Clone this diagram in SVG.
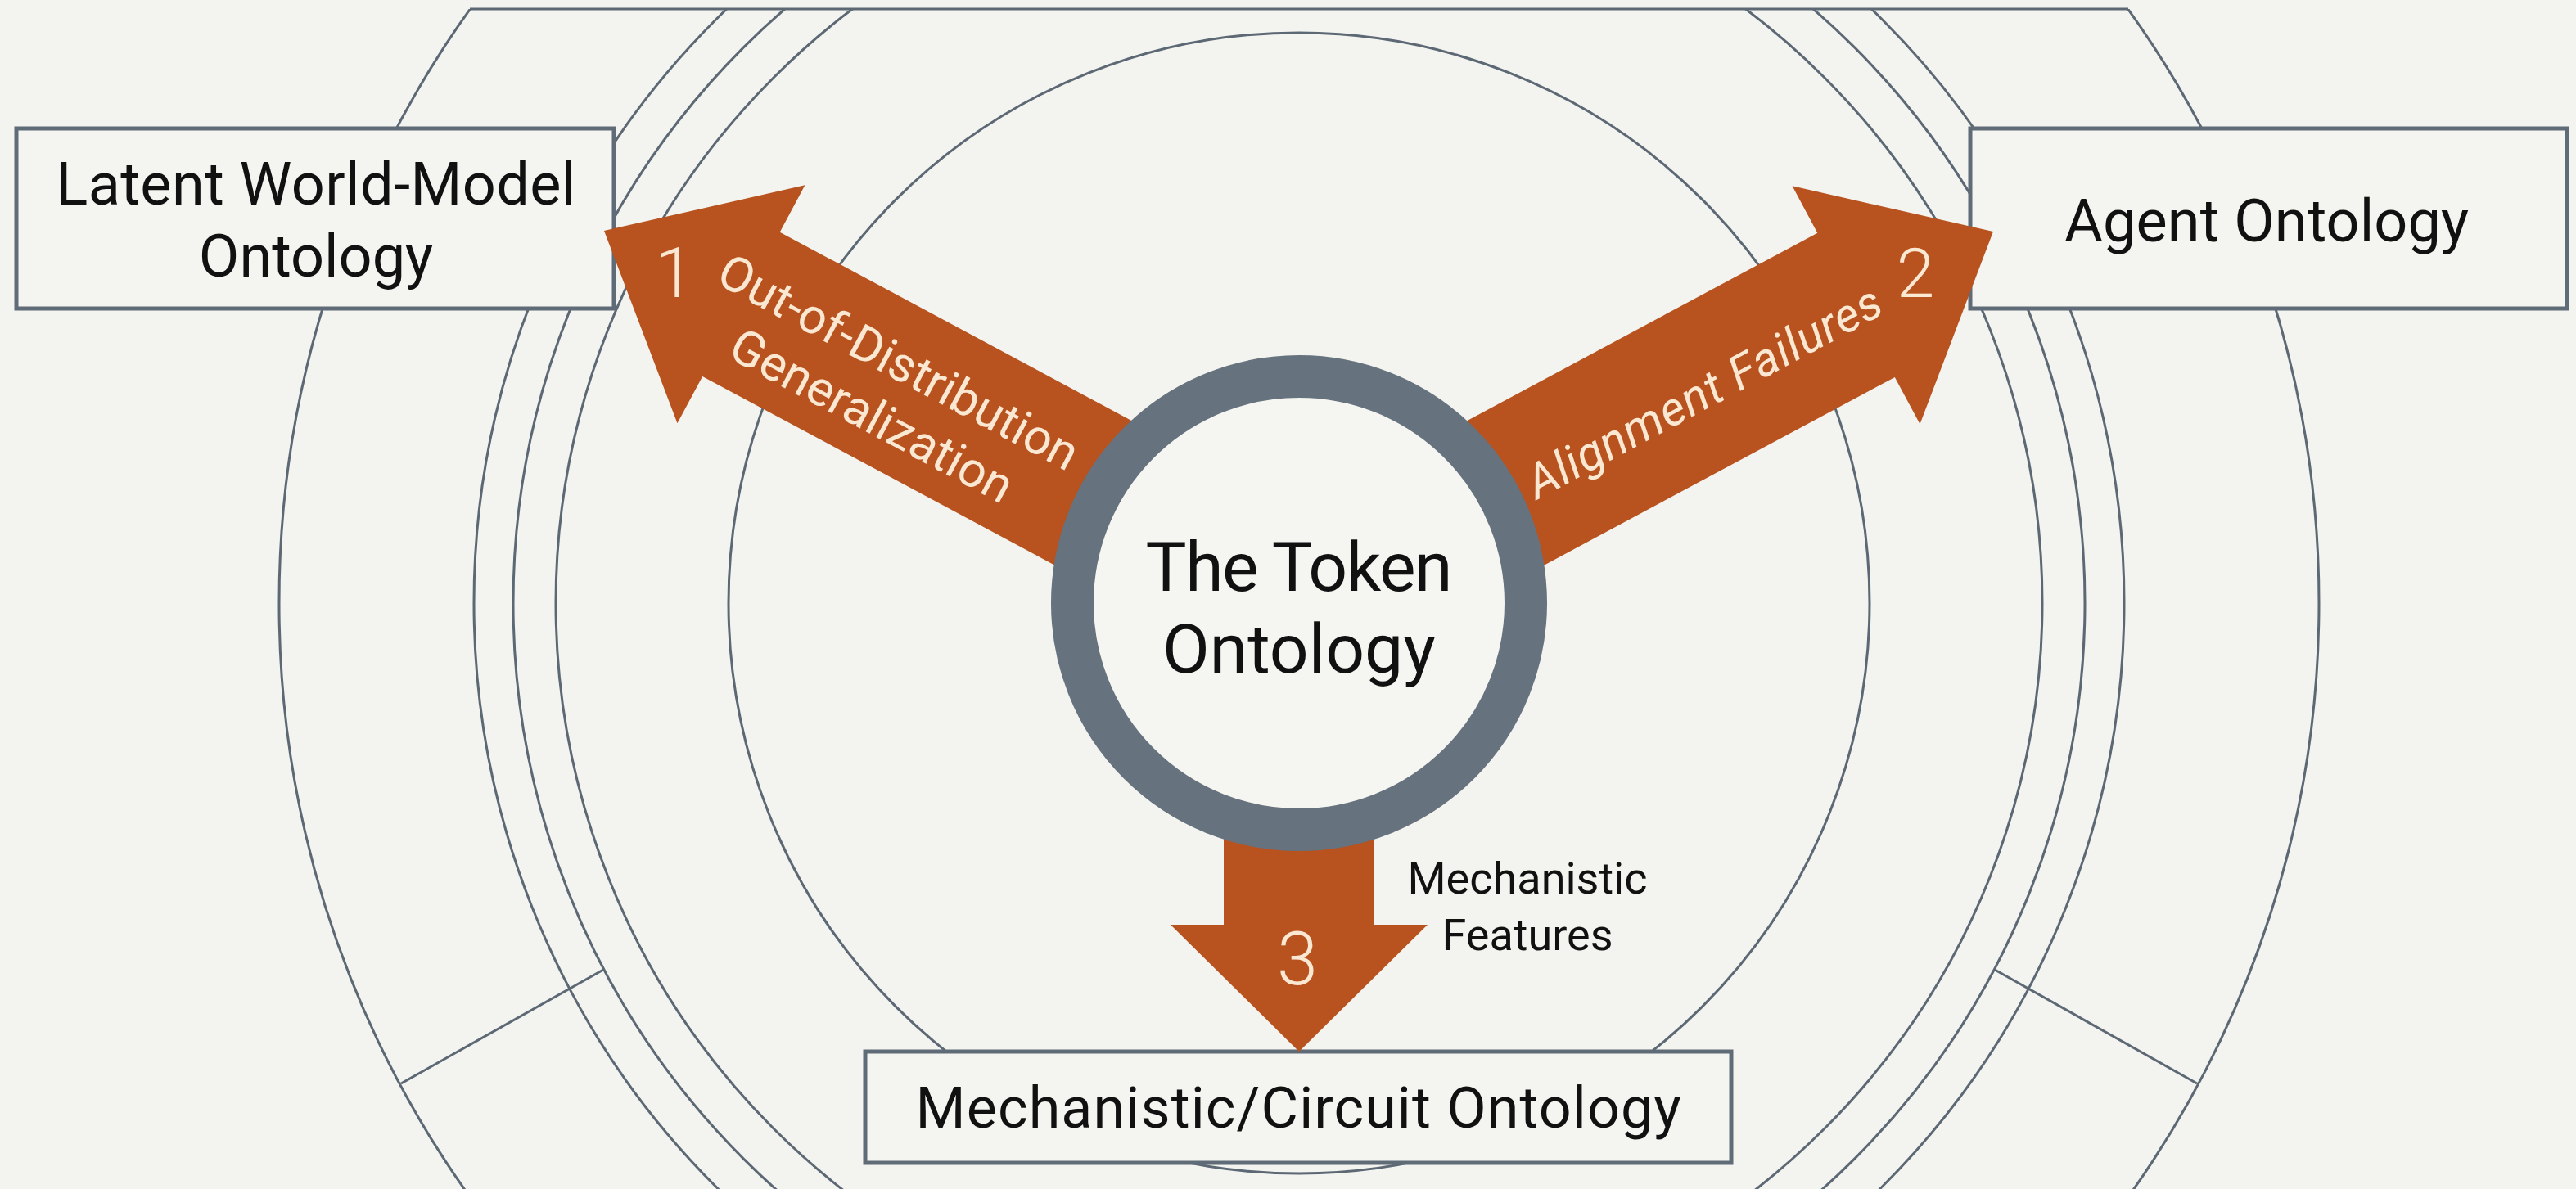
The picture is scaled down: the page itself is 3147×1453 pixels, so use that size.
<svg xmlns="http://www.w3.org/2000/svg" width="3147" height="1453" viewBox="0 0 3147 1453">
<defs>
<style>
.ring{fill:none;stroke:#5c6874;stroke-width:3}
.box{fill:#f4f4f0;stroke:#5f6b77;stroke-width:5}
.arrow{fill:#b8521e}
.lbl{font-family:Roboto,"DejaVu Sans",sans-serif;fill:#111;text-anchor:middle}
.alb{font-family:Roboto,"DejaVu Sans",sans-serif;fill:#fbe8d2;text-anchor:middle}
.num{font-family:Roboto,"DejaVu Sans",sans-serif;fill:#fbe8d2;text-anchor:middle;font-weight:300}
</style>
<clipPath id="clipTop"><rect x="0" y="11" width="3147" height="1442"/></clipPath>
</defs>
<rect x="0" y="0" width="3147" height="1453" fill="#f3f3ef"/>
<g id="background-rings" clip-path="url(#clipTop)">
<circle class="ring" cx="1587" cy="737" r="697"/>
<circle class="ring" cx="1587" cy="737" r="908"/>
<circle class="ring" cx="1587" cy="737" r="960"/>
<circle class="ring" cx="1587" cy="737" r="1008"/>
<circle class="ring" cx="1587" cy="737" r="1246"/>
</g>
<g id="background-lines">
<line class="ring" x1="574" y1="11" x2="2600" y2="11"/>
<line class="ring" x1="490" y1="1324" x2="737" y2="1185"/>
<line class="ring" x1="2684" y1="1324" x2="2437" y2="1185"/>
</g>
<g id="node-latent">
<rect class="box" x="20" y="157" width="730" height="220"/>
<text class="lbl" x="386" y="250" font-size="72" textLength="635">Latent World-Model</text>
<text class="lbl" x="386" y="338" font-size="72">Ontology</text>
</g>
<g id="node-agent">
<rect class="box" x="2407" y="157" width="729" height="220"/>
<text class="lbl" x="2769" y="295" font-size="72" textLength="494">Agent Ontology</text>
</g>
<g id="node-mechanistic">
<rect class="box" x="1057" y="1285" width="1058" height="136"/>
<text class="lbl" x="1586" y="1378" font-size="70" textLength="935">Mechanistic/Circuit Ontology</text>
</g>
<g id="connectors">
<polygon class="arrow" transform="translate(738,282) rotate(28.2)" points="0,0 190,-165 190,-100 700,-100 700,100 190,100 190,165"/>
<polygon class="arrow" transform="translate(2435,283) rotate(151.8)" points="0,0 190,-165 190,-100 700,-100 700,100 190,100 190,165"/>
<polygon class="arrow" transform="translate(1587,1285) rotate(-90)" points="0,0 155,-157 155,-92 300,-92 300,92 155,92 155,157"/>
<g transform="translate(738,282) rotate(28.2)">
<text class="alb" x="393" y="-8" font-size="60">Out-of-Distribution</text>
<text class="alb" x="395" y="65" font-size="60">Generalization</text>
</g>
<text class="alb" transform="translate(2081,478) rotate(-28.2)" x="0" y="21" font-size="58" font-style="italic" textLength="484">Alignment Failures</text>
<text class="num" x="824" y="363" font-size="86">1</text>
<text class="num" x="2340" y="363" font-size="84">2</text>
<text class="num" x="1585" y="1203" font-size="90">3</text>
<text class="lbl" x="1866" y="1092" font-size="54">Mechanistic</text>
<text class="lbl" x="1866" y="1161" font-size="54">Features</text>
</g>
<g id="node-token">
<circle cx="1587" cy="737" r="277" fill="#f5f5f1" stroke="#66727e" stroke-width="52"/>
<text class="lbl" x="1587" y="722" font-size="84" textLength="375">The Token</text>
<text class="lbl" x="1587" y="822" font-size="84">Ontology</text>
</g>
</svg>
